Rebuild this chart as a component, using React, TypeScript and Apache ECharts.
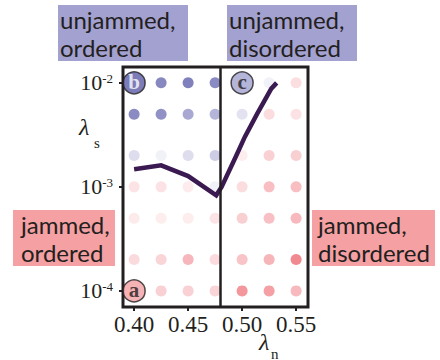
import React, { useEffect, useRef } from "react";
import * as echarts from "echarts";

// packing fractions (columns) and stiffness values (rows, top to bottom)
const xVals = [0.4, 0.425, 0.45, 0.475, 0.5, 0.525, 0.55];
const yVals = [1e-2, 5e-3, 2e-3, 1e-3, 5e-4, 2e-4, 1e-4];
// signed order measure per dot: negative = unjammed (blue), positive = jammed (red); null = lettered marker
const orderGrid: (number | null)[][] = [
  [null, -0.86, -0.92, -0.84, null, -0.1, 0.25],
  [-0.84, -0.8, -0.63, -0.53, -0.21, 0.26, 0.22],
  [-0.24, -0.1, -0.25, -0.36, 0.14, 0.35, 0.36],
  [0.21, 0.22, 0.15, -0.1, 0.26, 0.49, 0.49],
  [0.16, 0.14, 0.14, 0.21, 0.36, 0.48, 0.53],
  [0.28, 0.32, 0.55, 0.27, 0.45, 0.56, 0.89],
  [null, 0.35, 0.35, 0.32, 0.79, 0.72, 0.53],
];
// jamming boundary curve
const curveX = [0.4, 0.425, 0.45, 0.476, 0.481, 0.494, 0.5025, 0.514, 0.527, 0.532];
const curveY = [1.48e-3, 1.61e-3, 1.27e-3, 8.3e-4, 1.0e-3, 1.94e-3, 3.02e-3, 5.06e-3, 8.8e-3, 1.0e-2];
// order/disorder boundary
const orderBoundary = 0.48;
// lettered markers
const markerNames = ["a", "b", "c"];
const markerX = [0.4, 0.4, 0.5];
const markerY = [1e-4, 1e-2, 1e-2];
const markerFill = ["#f4a0a2", "#5b5ba8", "#a3a1d0"];
const markerText = ["#231f20", "#ffffff", "#231f20"];
// tick labels
const xTicks = [0.4, 0.45, 0.5, 0.55];
const yTicks = [1e-4, 1e-3, 1e-2];

const INK = "#231f20";
const SERIF = "'Liberation Serif', 'DejaVu Serif', serif";
const SANS = "Lato, 'Liberation Sans', sans-serif";

export default function App() {
  const ref = useRef<HTMLDivElement>(null);
  useEffect(() => {
    if (!ref.current) return;
    const chart = echarts.init(ref.current, null, { renderer: "svg" });
    const dots: number[][] = [];
    orderGrid.forEach((row, ri) =>
      row.forEach((v, ci) => {
        if (v !== null) dots.push([xVals[ci], yVals[ri], v]);
      })
    );
    const curve = curveX.map((x, i) => [x, curveY[i]]);
    const markers = markerNames.map((n, i) => ({
      name: n,
      value: [markerX[i], markerY[i]],
      itemStyle: { color: markerFill[i] },
      label: { color: markerText[i] },
    }));
    chart.setOption({
      animation: false,
      grid: {
        left: 123,
        right: 132,
        top: 67,
        bottom: 53,
        show: true,
        borderColor: INK,
        borderWidth: 3,
        backgroundColor: "transparent",
      },
      xAxis: {
        type: "value",
        min: 0.3897,
        max: 0.561,
        splitLine: { show: false },
        axisLine: { show: false },
        axisTick: {
          show: true,
          inside: false,
          length: 4,
          customValues: xTicks,
          lineStyle: { color: INK, width: 2 },
        },
        axisLabel: {
          customValues: xTicks,
          formatter: (v: number) => v.toFixed(2),
          fontFamily: SERIF,
          fontSize: 23,
          lineHeight: 23,
          color: INK,
          margin: 6,
        },
      },
      yAxis: {
        type: "log",
        logBase: 10,
        min: 7.0e-5,
        max: 1.42e-2,
        splitLine: { show: false },
        axisLine: { show: false },
        axisTick: {
          show: true,
          inside: false,
          length: 4,
          customValues: yTicks,
          lineStyle: { color: INK, width: 2 },
        },
        axisLabel: {
          customValues: yTicks,
          margin: 10,
          formatter: (v: number) => `{b|10}{s|${Math.round(Math.log10(v))}}`,
          rich: {
            b: { fontFamily: SERIF, fontSize: 22, color: INK, verticalAlign: "middle", lineHeight: 22 },
            s: { fontFamily: SERIF, fontSize: 13, color: INK, verticalAlign: "top", lineHeight: 14 },
          },
        },
      },
      visualMap: {
        show: false,
        type: "continuous",
        seriesIndex: 0,
        dimension: 2,
        min: -1,
        max: 1,
        inRange: { color: ["#5252a6", "#ffffff", "#ec5a64"] },
      },
      series: [
        {
          type: "scatter",
          data: dots,
          symbolSize: 11,
          z: 2,
        },
        {
          type: "line",
          data: curve,
          symbol: "none",
          z: 3,
          lineStyle: { color: "#3a1a50", width: 4.5, join: "miter" },
          markLine: {
            silent: true,
            symbol: "none",
            label: { show: false },
            lineStyle: { color: INK, width: 2.5, type: "solid" },
            data: [{ xAxis: orderBoundary }],
          },
        },
        {
          type: "scatter",
          data: markers,
          symbolSize: 22,
          z: 5,
          itemStyle: { borderColor: INK, borderWidth: 1.5 },
          label: {
            show: true,
            position: "inside",
            formatter: "{b}",
            fontFamily: SERIF,
            fontWeight: "bold",
            fontSize: 21,
            offset: [0, -1],
          },
        },
      ],
      graphic: [
        { type: "rect", shape: { x: 58, y: 5, width: 130, height: 56 }, style: { fill: "#a3a1d0" } },
        { type: "rect", shape: { x: 227, y: 5, width: 130, height: 56 }, style: { fill: "#a3a1d0" } },
        { type: "rect", shape: { x: 13, y: 210, width: 102, height: 56 }, style: { fill: "#f5a0a2" } },
        { type: "rect", shape: { x: 312, y: 210, width: 123, height: 56 }, style: { fill: "#f5a0a2" } },
        {
          type: "text",
          x: 60,
          y: 5,
          style: { text: "unjammed,\nordered", font: `24px ${SANS}`, fill: INK, lineHeight: 28, verticalAlign: "top" },
        },
        {
          type: "text",
          x: 229,
          y: 5,
          style: { text: "unjammed,\ndisordered", font: `24px ${SANS}`, fill: INK, lineHeight: 28, verticalAlign: "top" },
        },
        {
          type: "text",
          x: 21,
          y: 210,
          style: { text: "jammed,\nordered", font: `24px ${SANS}`, fill: INK, lineHeight: 28, verticalAlign: "top" },
        },
        {
          type: "text",
          x: 318,
          y: 210,
          style: { text: "jammed,\ndisordered", font: `24px ${SANS}`, fill: INK, lineHeight: 28, verticalAlign: "top" },
        },
        {
          type: "text",
          x: 79,
          y: 116,
          style: { text: "λ", font: `italic 24px ${SERIF}`, fill: INK, verticalAlign: "top", lineHeight: 22 },
        },
        {
          type: "text",
          x: 94,
          y: 135,
          style: { text: "s", font: `15px ${SERIF}`, fill: INK, verticalAlign: "top" },
        },
        {
          type: "text",
          x: 259,
          y: 332,
          style: { text: "λ", font: `italic 24px ${SERIF}`, fill: INK, verticalAlign: "top", lineHeight: 20 },
        },
        {
          type: "text",
          x: 271,
          y: 346,
          style: { text: "n", font: `15px ${SERIF}`, fill: INK, verticalAlign: "top" },
        },
      ],
    });
    return () => chart.dispose();
  }, []);
  return (
    <div
      ref={ref}
      style={{ position: "fixed", left: 0, top: 0, width: 440, height: 360, background: "#ffffff" }}
    />
  );
}
